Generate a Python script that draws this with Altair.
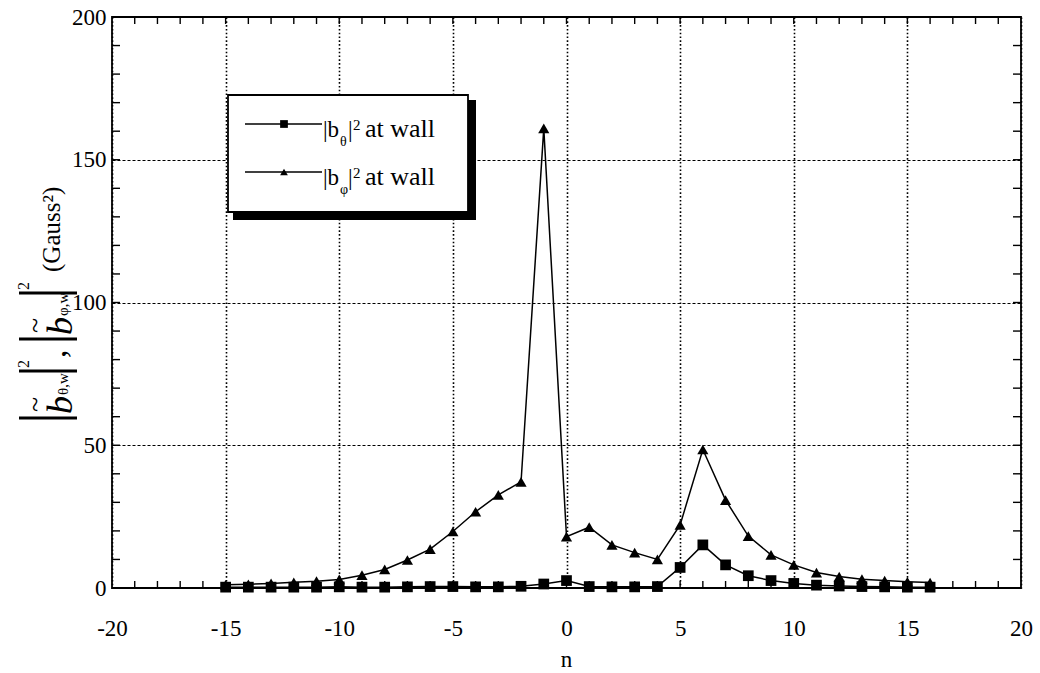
import altair as alt
import pandas as pd

# Toroidal mode number n and squared wall fluctuation amplitudes (Gauss^2)
n_values = list(range(-15, 17))
b_theta_sq = [0.3, 0.3, 0.3, 0.3, 0.3, 0.4, 0.3, 0.3, 0.4, 0.5, 0.5, 0.4, 0.4, 0.6,
              1.4, 2.6, 0.5, 0.4, 0.4, 0.5, 7.2, 15.1, 8.1, 4.3, 2.6, 1.6, 1.0, 0.7,
              0.5, 0.4, 0.3, 0.3]
b_phi_sq = [1.1, 1.3, 1.6, 2.0, 2.4, 3.0, 4.5, 6.5, 9.8, 13.6, 19.8, 26.7, 32.6, 37.2,
            161.0, 18.0, 21.3, 15.1, 12.4, 10.0, 22.1, 48.5, 30.8, 18.2, 11.6, 8.1,
            5.4, 4.0, 3.1, 2.6, 2.2, 1.9]

x_major = list(range(-20, 21, 5))
y_major = list(range(0, 201, 50))
x_minor = list(range(-19, 20))
y_minor = list(range(10, 200, 10))

W, H = 909, 571
L, T = 112, 17
SERIF = "Liberation Serif"

df = pd.DataFrame({"n": n_values, "theta": b_theta_sq, "phi": b_phi_sq})
one = pd.DataFrame({"k": [0]})

xs = alt.Scale(domain=[-20, 20], nice=False, zero=False)
ys = alt.Scale(domain=[0, 200], nice=False, zero=False)

# plain hyphen-minus in tick labels
plain = "'' + datum.value"

x_axis = alt.Axis(values=x_major, title=None, ticks=False, tickSize=0, domain=False,
                  grid=True, gridDash=[1.6, 2.2], gridWidth=1.6, gridColor="black",
                  gridOpacity=1, labelFont=SERIF, labelFontSize=23, labelColor="black",
                  labelPadding=29, labelFlush=False, labelOverlap=False, labelExpr=plain)
y_axis = alt.Axis(values=y_major, title=None, ticks=False, tickSize=0, domain=False,
                  grid=True, gridDash=[3, 2], gridWidth=1.2, gridColor="black",
                  gridOpacity=1, labelFont=SERIF, labelFontSize=23, labelColor="black",
                  labelPadding=6, labelOverlap=False, labelExpr=plain)


def X(field):
    return alt.X(field, scale=xs, axis=x_axis)


def Y(field):
    return alt.Y(field, scale=ys, axis=y_axis)


base = alt.Chart(df)

theta_line = base.mark_line(color="black", strokeWidth=1.5).encode(x=X("n:Q"), y=Y("theta:Q"))
theta_pts = base.mark_point(shape="square", filled=True, size=115, color="black",
                            opacity=1).encode(x=X("n:Q"), y=Y("theta:Q"))
phi_line = base.mark_line(color="black", strokeWidth=1.5).encode(x=X("n:Q"), y=Y("phi:Q"))
phi_pts = base.mark_point(shape="triangle-up", filled=True, size=125, color="black",
                          opacity=1).encode(x=X("n:Q"), y=Y("phi:Q"))

# inward minor ticks on all four sides
xt = alt.Chart(pd.DataFrame({"n": x_minor}))
yt = alt.Chart(pd.DataFrame({"theta": y_minor}))
tick_style = dict(color="black", strokeWidth=1.4)
ticks = [
    xt.mark_rule(**tick_style).encode(x=X("n:Q"), y=alt.value(H), y2=alt.value(H - 7)),
    xt.mark_rule(**tick_style).encode(x=X("n:Q"), y=alt.value(0), y2=alt.value(7)),
    yt.mark_rule(**tick_style).encode(y=Y("theta:Q"), x=alt.value(0), x2=alt.value(8)),
    yt.mark_rule(**tick_style).encode(y=Y("theta:Q"), x=alt.value(W - 8), x2=alt.value(W)),
]


def txt(s, sx, sy, size, angle=0, align="left", style="normal"):
    """Text placed in page pixels (converted to plot-area offsets)."""
    kw = dict(text=s, font=SERIF, fontSize=size, color="black", align=align,
              baseline="alphabetic", fontStyle=style)
    if angle:
        kw["angle"] = angle
    return alt.Chart(one).mark_text(**kw).encode(x=alt.value(sx - L), y=alt.value(sy - T))


def bar_h(sy, sx1, sx2, w=3):
    return alt.Chart(one).mark_rule(color="black", strokeWidth=w).encode(
        y=alt.value(sy - T), x=alt.value(sx1 - L), x2=alt.value(sx2 - L))


# legend box with drop shadow
legend = [
    alt.Chart(one).mark_rect(color="black").encode(
        x=alt.value(233 - L), x2=alt.value(476 - L), y=alt.value(100 - T), y2=alt.value(220 - T)),
    alt.Chart(one).mark_rect(fill="white", stroke="black", strokeWidth=1.8).encode(
        x=alt.value(228 - L), x2=alt.value(468 - L), y=alt.value(95 - T), y2=alt.value(212 - T)),
]
for ly, shape, sub in [(124, "square", "θ"), (172, "triangle-up", "φ")]:
    legend.append(alt.Chart(one).mark_rule(color="black", strokeWidth=1.3).encode(
        x=alt.value(245 - L), x2=alt.value(322 - L), y=alt.value(ly - T)))
    legend.append(alt.Chart(one).mark_point(shape=shape, filled=True, size=60, color="black",
                                            opacity=1).encode(
        x=alt.value(284 - L), y=alt.value(ly - T)))
    bl = ly + 13
    legend += [
        txt("|b", 323, bl, 23),
        txt(sub, 340, bl + 9, 14),
        txt("|", 348, bl, 23),
        txt("2", 353, bl - 7, 15),
        txt("at wall", 365, bl, 26),
    ]

# rotated y-axis title: |b~_{θ,w}|², |b~_{φ,w}|² (Gauss²)
ylab = [
    bar_h(418, 19, 77), bar_h(371, 19, 77), bar_h(339, 19, 77), bar_h(293, 19, 77),
    txt("b", 72, 414, 36, angle=270, style="italic"),
    txt("~", 44, 412, 28, angle=270),
    txt("θ,w", 68, 395, 15, angle=270),
    txt("2", 29, 368, 16, angle=270),
    txt(",", 66, 358, 34, angle=270),
    txt("b", 72, 335, 36, angle=270, style="italic"),
    txt("~", 44, 333, 28, angle=270),
    txt("φ,w", 68, 316, 15, angle=270),
    txt("2", 29, 290, 16, angle=270),
    txt("(Gauss²)", 60, 272, 25, angle=270),
]

xlab = [txt("n", L + W / 2, 667, 23, align="center")]

chart = alt.layer(
    theta_line, phi_line, *ticks, theta_pts, phi_pts, *legend, *ylab, *xlab
).properties(
    width=W, height=H,
    padding={"left": L, "top": T, "right": 1040 - L - W, "bottom": 673 - T - H},
    autosize="none",
).configure_view(stroke="black", strokeWidth=1.8)

chart.save("out.html", embed_options={"renderer": "svg", "actions": False})
